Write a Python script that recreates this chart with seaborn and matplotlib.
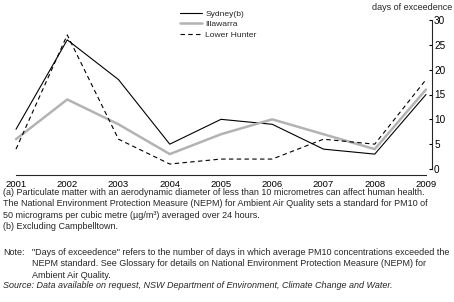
import pandas as pd
import numpy as np
import matplotlib.pyplot as plt
import seaborn as sns

years = [2001, 2002, 2003, 2004, 2005, 2006, 2007, 2008, 2009]
sydney = [8, 26, 18, 5, 10, 9, 4, 3, 15]
illawarra = [6, 14, 9, 3, 7, 10, 7, 4, 16]
lower_hunter = [4, 27, 6, 1, 2, 2, 6, 5, 18]
series_names = ['Sydney(b)', 'Illawarra', 'Lower Hunter']
y_ticks = [0, 5, 10, 15, 20, 25, 30]

footnotes = [
    '(a) Particulate matter with an aerodynamic diameter of less than 10 micrometres can affect human health.',
    'The National Environment Protection Measure (NEPM) for Ambient Air Quality sets a standard for PM10 of',
    '50 micrograms per cubic metre (\u00b5g/m\u00b3) averaged over 24 hours.',
    '(b) Excluding Campbelltown.',
]
note_lines = [
    '"Days of exceedence" refers to the number of days in which average PM10 concentrations exceeded the',
    'NEPM standard. See Glossary for details on National Environment Protection Measure (NEPM) for',
    'Ambient Air Quality.',
]
source = 'Source: Data available on request, NSW Department of Environment, Climate Change and Water.'

sns.set_style('white')
plt.rcParams['font.family'] = ['Liberation Sans', 'DejaVu Sans']
fs = 6.5

fig = plt.figure(figsize=(4.54, 3.02), dpi=100)
ax = fig.add_axes([16/454, 133/302, 416/454, 149/302])

styles = [
    (sydney, 'black', 0.8, '-'),
    (illawarra, '#b3b3b3', 1.8, '-'),
    (lower_hunter, 'black', 0.8, (0, (4, 3))),
]
for name, (vals, col, lw, ls) in zip(series_names, styles):
    sns.lineplot(x=years, y=vals, ax=ax, color=col, linewidth=lw,
                 linestyle=ls, label=name, clip_on=False)

# spine position first: it resets the tick setup
for s in ['top', 'left']:
    ax.spines[s].set_visible(False)
ax.spines['right'].set_linewidth(0.8)
ax.spines['bottom'].set_linewidth(0.8)
ax.spines['bottom'].set_position(('outward', 4.3))

ax.set_xlim(2001, 2009 + 6/51.25)
ax.set_ylim(0, 30)
ax.spines['right'].set_bounds(0, 30)
ax.spines['bottom'].set_bounds(2001, 2009)
ax.yaxis.tick_right()
ax.set_xticks(years)
ax.set_xticklabels([str(y) for y in years], fontsize=6.8)
ax.set_yticks(y_ticks)
ax.set_yticklabels([str(t) for t in y_ticks], fontsize=7.2)
ax.tick_params(axis='y', direction='in', length=2.5, width=0.8, pad=1.5, colors='black')
ax.tick_params(axis='x', direction='in', length=3, width=0.8, pad=3.5, colors='black')
ax.set_xlabel('')
ax.set_ylabel('')

fig.text(452/454, 1 - 8/302, 'days of exceedence', fontsize=fs,
         ha='right', va='center')

ax.legend(loc='upper left', bbox_to_anchor=(180/454, 1 - 10/302),
          bbox_transform=fig.transFigure, frameon=False, fontsize=fs - 0.4,
          handlelength=2.6, handletextpad=0.4, labelspacing=0.3,
          borderpad=0, borderaxespad=0)

y0 = 192.7
for i, line in enumerate(footnotes):
    fig.text(3/454, 1 - (y0 + i*11.3)/302, line, fontsize=fs, va='center')
fig.text(3/454, 1 - 252.7/302, 'Note:', fontsize=fs, va='center')
for i, line in enumerate(note_lines):
    fig.text(32/454, 1 - (252.7 + i*11.3)/302, line, fontsize=fs, va='center')
fig.text(3/454, 1 - 286/302, source, fontsize=fs, va='center', style='italic')

fig.savefig('out.png', dpi=100)
